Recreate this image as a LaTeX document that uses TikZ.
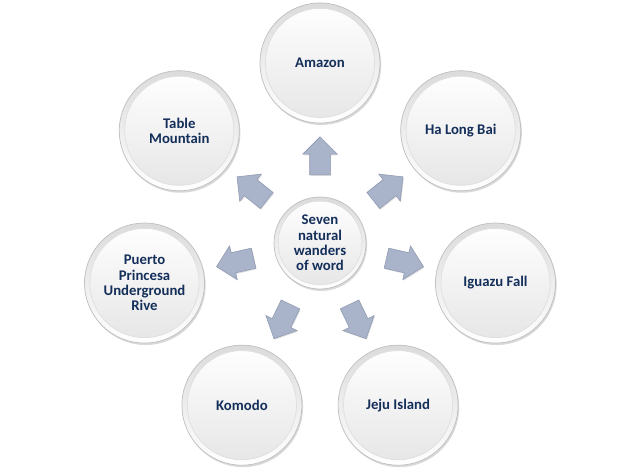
\documentclass[tikz,border=0pt]{standalone}
\usepackage{fontspec}
\setmainfont{Carlito}
\usepackage{xcolor}
\usetikzlibrary{positioning,calc,shapes.arrows,shadows}

\definecolor{wordnavy}{HTML}{142F5A}
\definecolor{arrowfill}{HTML}{A9B3C9}
\definecolor{arrowedge}{HTML}{8F9AB3}

\tikzset{
  button/.style={circle, minimum size=#1, inner sep=0pt, align=center,
    text=wordnavy, font=\bfseries\fontsize{10.5}{11}\selectfont,
    drop shadow={shadow xshift=0.8pt, shadow yshift=-1.4pt, opacity=0.3},
    top color=gray!28, bottom color=white, draw=gray!50, line width=0.5pt,
    path picture={\shade[top color=white, middle color=white, bottom color=gray!20, draw=gray!25]
      (path picture bounding box.center) circle (0.455*#1);}},
  outward/.style={single arrow, single arrow head extend=0.175cm,
    minimum height=0.95cm, inner xsep=0pt, inner ysep=0.25cm,
    fill=arrowfill, draw=arrowedge, line width=0.4pt,
    drop shadow={shadow xshift=0.6pt, shadow yshift=-0.8pt, opacity=0.25}}
}

\begin{document}
\begin{tikzpicture}[x=1cm,y=1cm]
  \useasboundingbox (0,0) rectangle (16,11.75);
  \coordinate (hub) at (8,5.675);
  \node[button=2.3cm] (wonders) at (hub) {Seven\\natural\\wanders\\of word};
  \node[button=3cm] (amazon)   at ($(hub)+(90:4.5)$)      {Amazon};
  \node[button=3cm] (halong)   at ($(hub)+(38.57:4.5)$)   {Ha Long Bai};
  \node[button=3cm] (iguazu)   at ($(hub)+(-12.86:4.5)$)  {Iguazu Fall};
  \node[button=3cm] (jeju)     at ($(hub)+(-64.29:4.5)$)  {Jeju Island};
  \node[button=3cm] (komodo)   at ($(hub)+(-115.71:4.5)$) {Komodo};
  \node[button=3cm] (puerto)   at ($(hub)+(-167.14:4.5)$) {Puerto\\Princesa\\Underground\\Rive};
  \node[button=3cm] (table)    at ($(hub)+(141.43:4.5)$)  {Table\\Mountain};
  \foreach \a/\n in {90/amazon,38.57/halong,-12.86/iguazu,-64.29/jeju,
                     -115.71/komodo,-167.14/puerto,141.43/table}
    \node[outward, rotate=\a] (to\n) at ($(hub)+(\a:2.05)$) {};
\end{tikzpicture}
\end{document}
